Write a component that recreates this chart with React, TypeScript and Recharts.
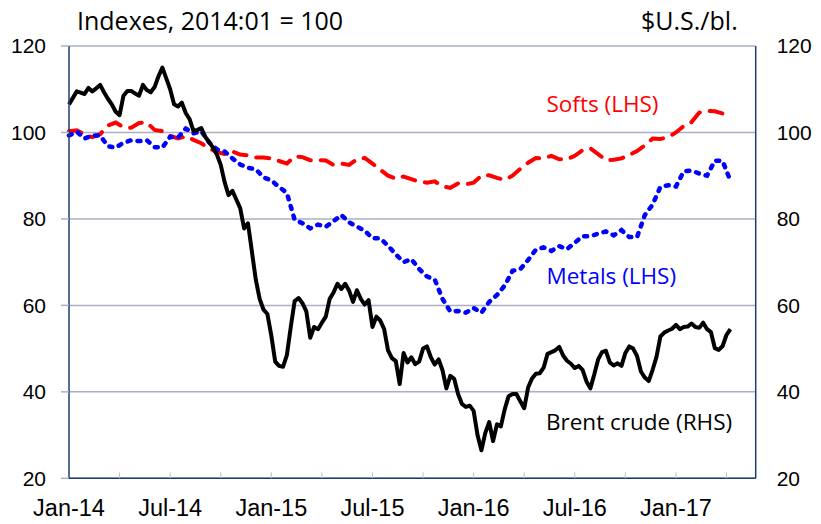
import { LineChart, Line, XAxis, YAxis, CartesianGrid } from 'recharts'

const xLabels = ['Jan-14', 'Jul-14', 'Jan-15', 'Jul-15', 'Jan-16', 'Jul-16', 'Jan-17']
const yTicks = [20, 40, 60, 80, 100, 120]
const xTicks = [0, 13, 26, 39, 52, 65, 78, 91, 104, 117, 130, 143, 156, 169]

// Brent crude, $U.S./bl. (RHS), weekly from first week of Jan-14
const brent = [
  106.5, 108, 109.5, 109.2, 108.9, 110.3, 109.5, 110.2, 111, 109.3,
  107.8, 106.5, 104.8, 104, 108.5, 109.6, 109.6, 109, 108.5, 111,
  109.8, 109.3, 110.5, 113, 115, 112.5, 110, 106.5, 106, 106.9,
  104.5, 103.1, 100.3, 100.6, 101, 99, 97.8, 96.5, 94.9, 92.5,
  88.5, 85.5, 86.5, 84.5, 82.5, 77.8, 79, 72.5, 66, 61.5,
  59, 58, 53, 47, 46, 45.8, 48.5, 55, 61, 61.7,
  60.5, 58.6, 52.5, 55, 54.5, 56, 57.4, 61.5, 63, 65,
  63.8, 65, 63.4, 60.8, 63.5, 61.5, 60.2, 61.2, 55, 57.4,
  56.5, 54.5, 49.6, 47.8, 47.1, 41.8, 49, 46.8, 48, 46.4,
  47, 50, 50.5, 48, 46.3, 47.5, 45, 40.8, 43.7, 43,
  39.5, 37.2, 36.5, 36.8, 35.6, 30, 26.5, 30.5, 33, 28.6,
  32.5, 32, 36, 39, 39.5, 39.5, 37.8, 36.2, 41, 43.1,
  44.2, 44.3, 45.6, 48.8, 49.2, 49.6, 50.4, 48.4, 47.2, 46.5,
  45.5, 46, 45.1, 42.4, 40.8, 44, 47.5, 49.2, 49.5, 46.8,
  46.1, 46.6, 46, 49, 50.5, 50, 48.3, 44.7, 43.3, 42.5,
  45.1, 48.1, 52.8, 53.7, 54.2, 54.6, 55.5, 54.5, 55, 55.1,
  55.8, 55, 54.8, 56, 54.5, 53.8, 50.1, 49.7, 50.6, 53.2,
  54.5,
]

// Softs index (LHS), every second week
const softs = [
  100.3, 100.5, 99.5, 98.9, 99.6, 101.6, 102.3, 101.2, 101.1, 102.2,
  102.3, 100.6, 100.3, 99.2, 98.6, 99.1, 98.3, 97.5, 96.3, 95.5,
  95, 95.6, 94.9, 94.7, 94.2, 94.2, 94, 93.4, 92.8, 94.5,
  94.3, 93.6, 93.6, 93.5, 92.5, 92.8, 92.5, 93.8, 94.1, 92.8,
  91.4, 90, 89.3, 89.8, 89.2, 88.6, 88.4, 88.7, 87.5, 87.2,
  88.2, 88, 88.4, 90, 90.1, 89.5, 89, 90, 91.6, 93,
  94.1, 94, 94.6, 93.8, 93.8, 94.6, 95.9, 96.3, 95, 93.6,
  93.7, 94, 94.8, 95.7, 97, 98.6, 98.5, 98.9, 100, 101.5,
  102.4, 104.6, 105, 104.9, 104.4,
]

// Metals index (LHS), every second week
const metals = [
  99.3, 100.2, 98.6, 99.3, 99.3, 96.8, 96.5, 97.6, 98.2, 98,
  98.2, 96.6, 96.5, 99, 98.8, 100.9, 99.8, 100.3, 97.7, 96.1,
  95.6, 94, 92.6, 91.8, 91.5, 89.6, 88.9, 87.4, 86, 79.8,
  79, 77.8, 78.7, 78.2, 79.5, 80.9, 79.2, 78.2, 77.3, 75.5,
  75.5, 73.8, 71.8, 70, 70.7, 68.4, 66.7, 66, 61.5, 58.6,
  58.7, 58.3, 59.4, 58.3, 60.8, 62.4, 64.6, 68, 68.4, 70.5,
  72.9, 73.4, 72.6, 73.7, 73, 74.5, 76, 76, 76.6, 77.1,
  76.2, 77.4, 75.8, 75.8, 80.9, 83.3, 87.4, 87.8, 87.5, 91,
  91.2, 90.5, 90, 93.5, 93.4, 88.8,
]

const brentData = brent.map((v, i) => ({ w: i, v }))
const softsData = softs.map((v, i) => ({ w: i * 2, v }))
const metalsData = metals.map((v, i) => ({ w: i * 2, v }))

const AXIS = '#1f3d70'
const GRID = '#a9b0c2'
const TICK_FONT = '"Liberation Sans", Arial, sans-serif'
const TEXT_FONT = '"Open Sans", sans-serif'

function WeekTick(props: any) {
  const { x, y, payload } = props
  const k = payload.value / 26
  return (
    <g>
      {payload.value > 0 && <line x1={x} x2={x} y1={y} y2={y - 6} stroke="#b9bec9" strokeWidth={1} />}
      {Number.isInteger(k) && (
        <text x={x} y={y + 38} textAnchor="middle" fontSize={23.5} fontFamily={TICK_FONT} fill="#000">
          {xLabels[k]}
        </text>
      )}
    </g>
  )
}

export default function App() {
  return (
    <div style={{ position: 'absolute', left: 0, top: 0, width: 821, height: 524, background: '#fff' }}>
      <LineChart width={821} height={524} margin={{ top: 46, right: 0, bottom: 0, left: 0 }}>
        <CartesianGrid yAxisId="left" vertical={false} stroke={GRID} strokeWidth={1.5} />
        <XAxis
          dataKey="w"
          type="number"
          domain={[0, 176.5]}
          ticks={xTicks}
          height={45.7}
          tickSize={0}
          tickMargin={0}
          tickLine={false}
          tick={WeekTick}
          axisLine={{ stroke: AXIS, strokeWidth: 1.5 }}
          allowDuplicatedCategory={false}
        />
        <YAxis
          yAxisId="left"
          domain={[20, 120]}
          ticks={yTicks}
          width={69}
          tickSize={8}
          tickMargin={15}
          tickLine={{ stroke: GRID, strokeWidth: 1.5 }}
          axisLine={{ stroke: AXIS, strokeWidth: 1.5 }}
          tick={{ fontSize: 21, fontFamily: TICK_FONT, fill: '#000' }}
        />
        <YAxis
          yAxisId="right"
          orientation="right"
          domain={[20, 120]}
          ticks={yTicks}
          width={65.3}
          tickSize={0}
          tickMargin={21}
          tickLine={false}
          axisLine={{ stroke: AXIS, strokeWidth: 1.5 }}
          tick={{ fontSize: 21, fontFamily: TICK_FONT, fill: '#000', textAnchor: 'start' }}
        />
        <Line
          yAxisId="left"
          data={softsData}
          dataKey="v"
          type="linear"
          stroke="#ff0000"
          strokeWidth={4}
          strokeDasharray="13 10"
          strokeLinecap="round"
          dot={false}
          isAnimationActive={false}
        />
        <Line
          yAxisId="left"
          data={metalsData}
          dataKey="v"
          type="linear"
          stroke="#0000ff"
          strokeWidth={4.5}
          strokeDasharray="3 7"
          strokeLinecap="round"
          dot={false}
          isAnimationActive={false}
        />
        <Line
          yAxisId="right"
          data={brentData}
          dataKey="v"
          type="linear"
          stroke="#000"
          strokeWidth={4}
          strokeLinejoin="round"
          dot={false}
          isAnimationActive={false}
        />
      </LineChart>
      <svg
        width={821}
        height={524}
        style={{ position: 'absolute', left: 0, top: 0, pointerEvents: 'none' }}
        fontFamily={TEXT_FONT}
      >
        <text x={77} y={29.5} fontSize={25} fill="#000">Indexes, 2014:01 = 100</text>
        <text x={641} y={29.5} fontSize={25} fill="#000">$U.S./bl.</text>
        <text x={546.5} y={111.5} fontSize={22.5} fill="#ff0000">Softs (LHS)</text>
        <text x={546.5} y={284} fontSize={22.5} fill="#0000ff">Metals (LHS)</text>
        <text x={546} y={430} fontSize={22.5} fill="#000">Brent crude (RHS)</text>
      </svg>
    </div>
  )
}
